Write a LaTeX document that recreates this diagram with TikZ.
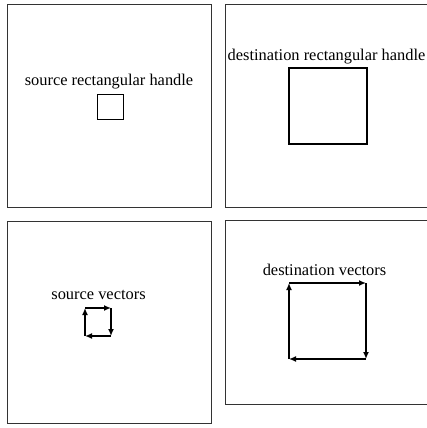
\documentclass[tikz,border=0pt]{standalone}
\usepackage{fontspec}
\setmainfont{Liberation Serif}
\usetikzlibrary{arrows.meta}
\begin{document}
\begin{tikzpicture}[x=1pt,y=-1pt,
  panel/.style={draw=black!80,line width=0.8pt},
  lbl/.style={font=\fontsize{16.4}{18}\selectfont,inner sep=0pt,anchor=base},
  handle/.style={draw,line width=0.9pt},
  bighandle/.style={draw,line width=1.8pt},
  vec/.style={line width=1.8pt,-{Latex[length=7pt,width=6pt]}}]
\useasboundingbox (0,0) rectangle (427,428);
% panel frames
\draw[panel] (7,4) rectangle (211,207);
\draw[panel] (225,4) rectangle (427,207);
\draw[panel] (7,221) rectangle (211,423);
\draw[panel] (225,220) rectangle (427,404);
% source rectangular handle
\node[lbl] (srct) at (109,85) {source rectangular handle};
\draw[handle] (97,94) rectangle (123,119);
% destination rectangular handle
\node[lbl] (drct) at (326.5,60) {destination rectangular handle};
\draw[bighandle] (289,68) rectangle (367,144);
% source vectors
\node[lbl] (svt) at (98.5,299) {source vectors};
\coordinate (s1) at (85,336);
\coordinate (s2) at (85,308);
\coordinate (s3) at (111,308);
\coordinate (s4) at (111,336);
\draw[vec] (s1) -- (s2);
\draw[vec] (s2) -- (s3);
\draw[vec] (s3) -- (s4);
\draw[vec] (s4) -- (s1);
% destination vectors
\node[lbl] (dvt) at (324.5,275) {destination vectors};
\coordinate (d1) at (289,359);
\coordinate (d2) at (289,283);
\coordinate (d3) at (366,283);
\coordinate (d4) at (366,359);
\draw[vec] (d1) -- (d2);
\draw[vec] (d2) -- (d3);
\draw[vec] (d3) -- (d4);
\draw[vec] (d4) -- (d1);
\end{tikzpicture}
\end{document}
